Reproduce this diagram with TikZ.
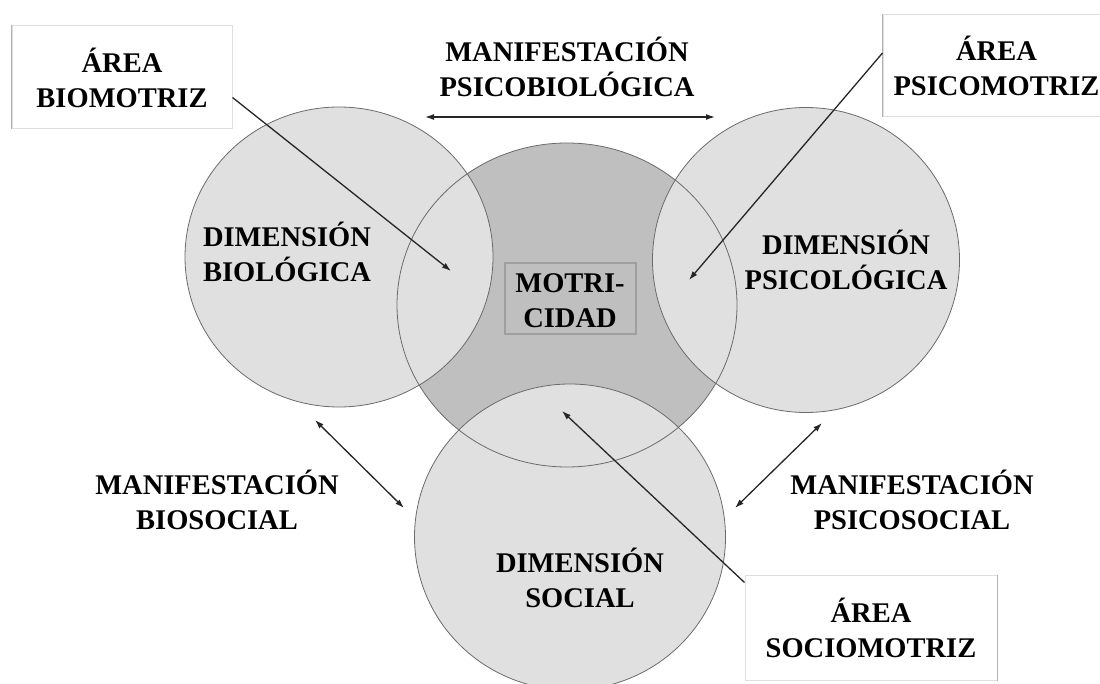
\documentclass[tikz,border=0pt]{standalone}
\usepackage{fontspec}
\setmainfont{Liberation Serif}
\usetikzlibrary{shapes.geometric,arrows.meta}
\pgfdeclarelayer{bg}
\pgfsetlayers{bg,main}
\definecolor{lightdim}{gray}{0.88}
\definecolor{darkmot}{gray}{0.75}
\definecolor{rimgray}{gray}{0.42}
\tikzset{
  dimshape/.style 2 args={ellipse, inner sep=0pt, minimum width=#1, minimum height=#2},
  rim/.style={draw=rimgray, line width=0.8pt},
  lbl/.style={align=center, inner sep=0pt, anchor=base, font=\fontsize{28.5}{35}\selectfont\bfseries},
  areabox/.style={rectangle, draw=gray!25, line width=1pt, align=center, inner sep=0pt, font=\fontsize{28.5}{35}\selectfont\bfseries},
  boxedge/.style={draw=gray!60, line width=1.5pt},
  arr/.style={-{Latex[length=9pt,width=6pt]}, line width=1.3pt, draw=black!85},
  darr/.style={{Latex[length=9pt,width=6pt]}-{Latex[length=9pt,width=6pt]}, line width=1.3pt, draw=black!85},
}

\begin{document}
\begin{tikzpicture}[x=1pt,y=-1pt]
  \useasboundingbox (0,0) rectangle (1100,684);

  % fills of the four dimensions
  \begin{pgfonlayer}{bg}
    \node (mot) [dimshape={340pt}{324pt}, fill=darkmot] at (567,305) {};
    \node (bio) [dimshape={308pt}{300pt}, fill=lightdim] at (339,257) {};
    \node (psi) [dimshape={307pt}{305pt}, fill=lightdim] at (806,260) {};
    \node (soc) [dimshape={311pt}{306pt}, fill=lightdim] at (570,537) {};
  \end{pgfonlayer}
  \node (mot-rim) [dimshape={340pt}{324pt}, rim] at (mot) {};
  \node (bio-rim) [dimshape={308pt}{300pt}, rim] at (bio) {};
  \node (psi-rim) [dimshape={307pt}{305pt}, rim] at (psi) {};
  \node (soc-rim) [dimshape={311pt}{306pt}, rim] at (soc) {};

  \node (tmot) [rectangle, draw=gray!75, line width=1.5pt, inner sep=0pt, minimum width=131pt, minimum height=71pt] at (570.5,298.5) {};
  \node (lmot) [lbl] at (570,328) {MOTRI-\\CIDAD};

  \node (lbio) [lbl] at (287,282) {DIMENSIÓN\\BIOLÓGICA};
  \node (lpsi) [lbl] at (846,290) {DIMENSIÓN\\PSICOLÓGICA};
  \node (lsoc) [lbl] at (580,607) {DIMENSIÓN\\SOCIAL};

  \node (mpb) [lbl] at (567,97) {MANIFESTACIÓN\\PSICOBIOLÓGICA};
  \node (mbs) [lbl] at (217,529) {MANIFESTACIÓN\\BIOSOCIAL};
  \node (mps) [lbl] at (912,529) {MANIFESTACIÓN\\PSICOSOCIAL};

  \node (bbio) [areabox, minimum width=220pt, minimum height=103pt] at (122,77.5) {ÁREA\\BIOMOTRIZ};
  \node (bpsi) [areabox, minimum width=227pt, minimum height=102pt] at (996.5,66) {ÁREA\\PSICOMOTRIZ};
  \node (bsoc) [areabox, minimum width=252pt, minimum height=105pt] at (871,627.5) {ÁREA\\SOCIOMOTRIZ};
  \draw[boxedge] (bbio.north west) -- (bbio.south west);
  \draw[boxedge] (bpsi.north west) -- (bpsi.south west);
  \draw[boxedge] (bsoc.north east) -- (bsoc.south east);

  \coordinate (tbio) at (451,271);
  \coordinate (tpsi) at (689,280);
  \coordinate (tsoc) at (562,411);
  \coordinate (mpl) at (425,117);
  \coordinate (mpr) at (715,117);
  \coordinate (mbl) at (315,420);
  \coordinate (mbr) at (404,508);
  \coordinate (msl) at (822,423);
  \coordinate (msr) at (735,508);

  \draw[arr] ([yshift=-20pt]bbio.east) -- (tbio);
  \draw[arr] ([yshift=13pt]bpsi.west) -- (tpsi);
  \draw[arr] ([yshift=-8pt]bsoc.north west) -- (tsoc);
  \draw[darr] (mpl) -- (mpr);
  \draw[darr] (mbl) -- (mbr);
  \draw[darr] (msl) -- (msr);
\end{tikzpicture}
\end{document}
